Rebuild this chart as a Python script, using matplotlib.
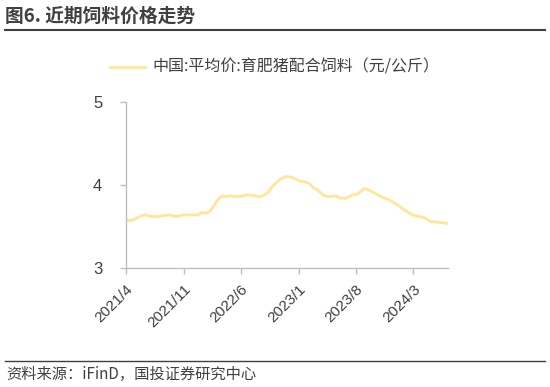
import pandas as pd
import matplotlib
matplotlib.use("Agg")
import matplotlib.pyplot as plt

plt.rcParams['font.family'] = ['Noto Sans CJK SC', 'DejaVu Sans']

# 中国:平均价:育肥猪配合饲料（元/公斤）
dates = ["2021-04-01", "2021-04-15", "2021-05-04", "2021-05-28", "2021-06-15",
         "2021-07-04", "2021-07-28", "2021-08-15", "2021-09-10", "2021-10-05",
         "2021-11-01", "2021-11-25", "2021-12-25", "2022-01-06", "2022-01-18",
         "2022-02-06", "2022-02-25", "2022-03-12", "2022-03-25", "2022-04-06",
         "2022-04-18", "2022-05-12", "2022-06-10", "2022-06-21", "2022-07-15",
         "2022-08-03", "2022-08-21", "2022-09-09", "2022-09-27", "2022-10-21",
         "2022-11-09", "2022-11-27", "2022-12-09", "2023-01-04", "2023-01-22",
         "2023-02-09", "2023-02-24", "2023-03-12", "2023-04-06", "2023-04-24",
         "2023-05-18", "2023-06-06", "2023-06-24", "2023-07-18", "2023-08-06",
         "2023-08-18", "2023-09-01", "2023-09-18", "2023-10-06", "2023-11-03",
         "2023-12-03", "2024-01-03", "2024-01-28", "2024-02-27", "2024-03-21",
         "2024-04-09", "2024-05-03", "2024-06-03", "2024-07-03"]
prices = [3.58, 3.57, 3.59, 3.63, 3.64, 3.62, 3.62, 3.63, 3.64, 3.62,
          3.64, 3.64, 3.64, 3.67, 3.66, 3.68, 3.77, 3.84, 3.87, 3.86,
          3.87, 3.86, 3.87, 3.88, 3.88, 3.86, 3.87, 3.91, 3.99, 4.06,
          4.10, 4.10, 4.09, 4.05, 4.04, 4.02, 3.97, 3.94, 3.87, 3.86,
          3.87, 3.84, 3.84, 3.88, 3.89, 3.92, 3.96, 3.94, 3.91, 3.86,
          3.82, 3.76, 3.70, 3.64, 3.62, 3.61, 3.56, 3.55, 3.54]
tick_dates = ["2021-04-01", "2021-11-01", "2022-06-01", "2023-01-01", "2023-08-01", "2024-03-01"]
tick_labels = ["2021/4", "2021/11", "2022/6", "2023/1", "2023/8", "2024/3"]
yticks = [3, 4, 5]

x = pd.to_datetime(dates)

fig = plt.figure(figsize=(5.5, 3.87), dpi=100)
ax = fig.add_axes([0.229, 0.3075, 0.586, 0.4285])

line_color = '#FFE699'
ax.plot(x, prices, color=line_color, lw=2)

ax.set_ylim(3, 5)
ax.set_yticks(yticks)
ax.set_xlim(pd.Timestamp("2021-04-01"), pd.Timestamp("2024-07-08"))
ax.set_xticks(pd.to_datetime(tick_dates))
ax.set_xticklabels(tick_labels, rotation=45, ha='right', rotation_mode='anchor',
                   fontsize=11, color='#404040', family=['Liberation Sans'])
for lab in ax.get_yticklabels():
    lab.set_fontsize(12)
    lab.set_color('#404040')
    lab.set_family(['Liberation Sans'])

for s in ['top', 'right']:
    ax.spines[s].set_visible(False)
for s in ['left', 'bottom']:
    ax.spines[s].set_color('#BFBFBF')
    ax.spines[s].set_linewidth(1)
ax.tick_params(axis='both', colors='#BFBFBF', length=4, width=1, labelcolor='#404040')
ax.tick_params(axis='y', pad=13)
ax.tick_params(axis='x', pad=6)

# legend
fig.lines.append(plt.Line2D([110 / 550, 145 / 550], [1 - 67 / 387] * 2,
                            color=line_color, lw=2, transform=fig.transFigure))
fig.text(152 / 550, 1 - 67 / 387, "中国:平均价:育肥猪配合饲料（元/公斤）",
         fontsize=11.5, color='#404040', va='center', ha='left')

# title and rules
fig.text(5 / 550, 1 - 16 / 387, "图6. 近期饲料价格走势", fontsize=13.5, fontweight='bold',
         color='#404040', va='center', ha='left')
fig.lines.append(plt.Line2D([5 / 550, 545 / 550], [1 - 30 / 387] * 2,
                            color='#404040', lw=1.5, transform=fig.transFigure))
fig.lines.append(plt.Line2D([5 / 550, 545 / 550], [1 - 361 / 387] * 2,
                            color='#404040', lw=1, transform=fig.transFigure))
fig.text(6 / 550, 1 - 374 / 387, "资料来源：iFinD，国投证券研究中心", fontsize=11,
         style='italic', color='#404040', va='center', ha='left')

fig.savefig("out.png", dpi=100)
